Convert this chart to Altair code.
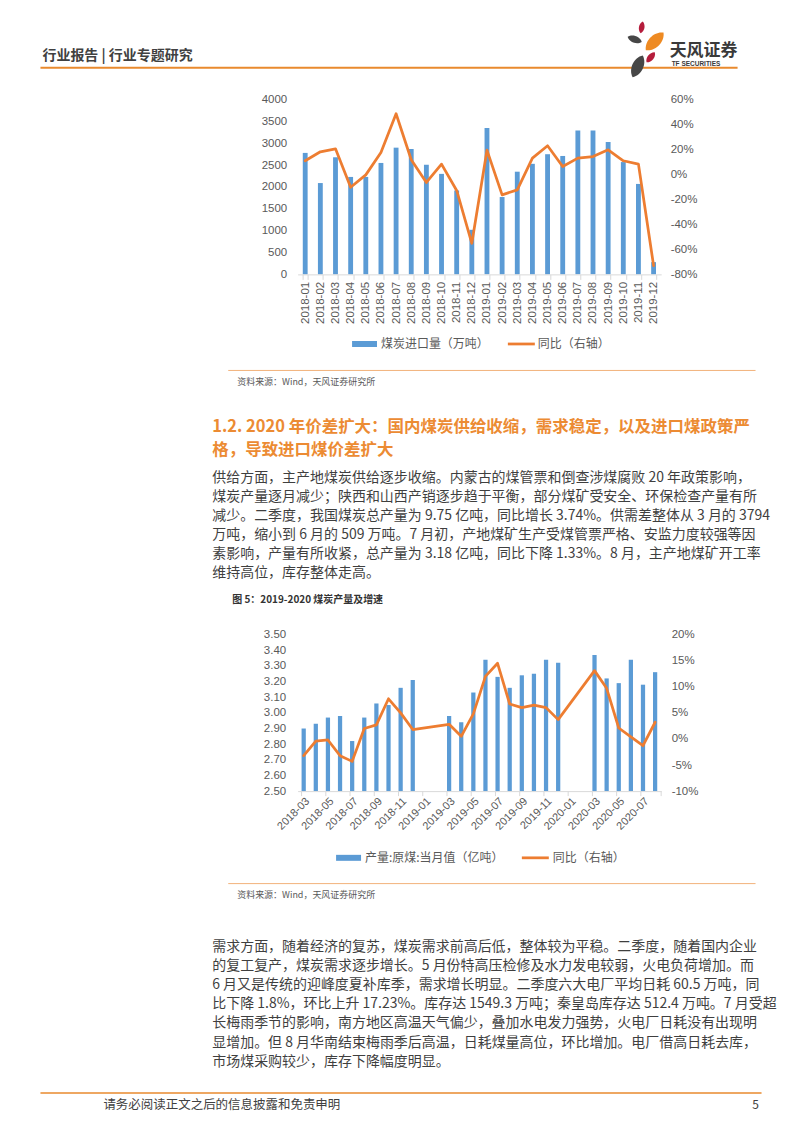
import altair as alt
import pandas as pd

# ---------------- data ----------------
months1 = ["2018-01", "2018-02", "2018-03", "2018-04", "2018-05", "2018-06",
           "2018-07", "2018-08", "2018-09", "2018-10", "2018-11", "2018-12",
           "2019-01", "2019-02", "2019-03", "2019-04", "2019-05", "2019-06",
           "2019-07", "2019-08", "2019-09", "2019-10", "2019-11", "2019-12"]
coal_imports = [2780, 2090, 2680, 2230, 2230, 2550, 2900, 2870, 2510, 2300, 1920, 1020,
                3350, 1770, 2350, 2530, 2750, 2710, 3290, 3290, 3030, 2570, 2070, 280]
imports_yoy = [11.0, 18.2, 20.6, -10.2, -0.3, 17.7, 48.7, 11.8, -6.4, 8.3, -12.8, -55.1,
               19.5, -16.3, -12.3, 13.1, 23.0, 6.4, 13.1, 14.4, 19.8, 11.0, 8.3, -73.0]

months2 = ["2018-03", "2018-04", "2018-05", "2018-06", "2018-07", "2018-08", "2018-09",
           "2018-10", "2018-11", "2018-12", "2019-01", "2019-02", "2019-03", "2019-04",
           "2019-05", "2019-06", "2019-07", "2019-08", "2019-09", "2019-10", "2019-11",
           "2019-12", "2020-01", "2020-02", "2020-03", "2020-04", "2020-05", "2020-06",
           "2020-07", "2020-08"]
prod_months = ["2018-03", "2018-04", "2018-05", "2018-06", "2018-07", "2018-08", "2018-09",
               "2018-10", "2018-11", "2018-12", "2019-03", "2019-04", "2019-05", "2019-06",
               "2019-07", "2019-08", "2019-09", "2019-10", "2019-11", "2019-12", "2020-03",
               "2020-04", "2020-05", "2020-06", "2020-07", "2020-08"]
coal_output = [2.90, 2.93, 2.97, 2.98, 2.82, 2.97, 3.06, 3.05, 3.16, 3.21,
               2.98, 2.94, 3.13, 3.34, 3.23, 3.16, 3.24, 3.25, 3.34, 3.32,
               3.37, 3.22, 3.19, 3.34, 3.18, 3.26]
output_yoy = [-3.2, -0.4, -0.2, -3.2, -4.3, 2.0, 2.7, 7.7, 5.0, 1.8,
              2.8, 0.5, 4.8, 12.0, 14.5, 6.7, 6.0, 6.5, 6.0, 3.7,
              13.1, 9.7, 2.1, 0.4, -1.3, 3.2]

header_left = "行业报告 | 行业专题研究"
logo_cn = "天风证券"
logo_en = "TF SECURITIES"
legend1 = ["煤炭进口量（万吨）", "同比（右轴）"]
legend2 = ["产量:原煤:当月值（亿吨）", "同比（右轴）"]
source_text = "资料来源：Wind，天风证券研究所"
heading = ["1.2. 2020 年价差扩大：国内煤炭供给收缩，需求稳定，以及进口煤政策严",
           "格，导致进口煤价差扩大"]
para1 = ["供给方面，主产地煤炭供给逐步收缩。内蒙古的煤管票和倒查涉煤腐败 20 年政策影响，",
         "煤炭产量逐月减少；陕西和山西产销逐步趋于平衡，部分煤矿受安全、环保检查产量有所",
         "减少。二季度，我国煤炭总产量为 9.75 亿吨，同比增长 3.74%。供需差整体从 3 月的 3794",
         "万吨，缩小到 6 月的 509 万吨。7 月初，产地煤矿生产受煤管票严格、安监力度较强等因",
         "素影响，产量有所收紧，总产量为 3.18 亿吨，同比下降 1.33%。8 月，主产地煤矿开工率",
         "维持高位，库存整体走高。"]
caption2 = "图 5：2019-2020 煤炭产量及增速"
para2 = ["需求方面，随着经济的复苏，煤炭需求前高后低，整体较为平稳。二季度，随着国内企业",
         "的复工复产，煤炭需求逐步增长。5 月份特高压检修及水力发电较弱，火电负荷增加。而",
         "6 月又是传统的迎峰度夏补库季，需求增长明显。二季度六大电厂平均日耗 60.5 万吨，同",
         "比下降 1.8%，环比上升 17.23%。库存达 1549.3 万吨；秦皇岛库存达 512.4 万吨。7 月受超",
         "长梅雨季节的影响，南方地区高温天气偏少，叠加水电发力强势，火电厂日耗没有出现明",
         "显增加。但 8 月华南结束梅雨季后高温，日耗煤量高位，环比增加。电厂借高日耗去库，",
         "市场煤采购较少，库存下降幅度明显。"]
footer_text = "请务必阅读正文之后的信息披露和免责申明"
page_no = "5"

# ---------------- layout / style ----------------
OX, OY1, OY2 = 297.5, 98.3, 634.0
W, H1, H2 = 364, 175, 156.7
CJK = "Noto Sans CJK SC"
NUM = "Liberation Sans"
BLUE, ORANGE = "#5B9BD5", "#ED7D31"
GRAY = "#595959"
BODY = "#3F3F3F"
PAGE_ORANGE = "#E98A2E"


def one(s=""):
    return pd.DataFrame({"t": [s]})


def text(s, x, y, size, color=BODY, weight="normal", font=CJK, align="left"):
    return alt.Chart(one(s)).mark_text(
        align=align, baseline="middle", font=font, fontSize=size,
        fontWeight=weight, fill=color
    ).encode(x=alt.value(x - OX), y=alt.value(y - OY1), text="t:N")


def hline(x1, x2, y, color, w):
    return alt.Chart(one()).mark_rule(color=color, strokeWidth=w).encode(
        x=alt.value(x1 - OX), x2=alt.value(x2 - OX), y=alt.value(y - OY1))


def box(x1, x2, y1, y2, color, opacity=1):
    return alt.Chart(one()).mark_rect(color=color, opacity=opacity).encode(
        x=alt.value(x1 - OX), x2=alt.value(x2 - OX),
        y=alt.value(y1 - OY1), y2=alt.value(y2 - OY1))


PETAL = "M0,-1C0.62,-0.55 0.62,0.55 0,1C-0.62,0.55 -0.62,-0.55 0,-1Z"


def petal(x, y, L, ang, color):
    return alt.Chart(one()).mark_point(
        shape=PETAL, filled=True, size=L * L, angle=ang, color=color, opacity=1, strokeWidth=0
    ).encode(x=alt.value(x - OX), y=alt.value(y - OY1))


# page frame (defines the page box for sizing; transparent)
decor = [box(8, 792, 8, 1124, "white", 0)]
# header
decor += [text(header_left, 42, 55, 14, "#404040", "bold"),
          hline(40, 738, 66.5, PAGE_ORANGE, 2),
          petal(642, 26, 12, 10, "#B51D3C"),
          petal(635, 38, 15, 110, "#474747"),
          petal(655, 40, 25, 45, "#EE8A22"),
          petal(651, 56, 13, 40, "#B51D3C"),
          petal(638, 65, 24, 25, "#474747"),
          text(logo_cn, 670, 50, 17, "#3A3A3A", "bold"),
          text(logo_en, 672, 62.5, 6.5, "#3A3A3A", "bold", NUM)]
# legend 1
decor += [box(352, 377, 340, 346, BLUE), text(legend1[0], 381, 343, 12, GRAY),
          hline(508, 535, 343, ORANGE, 2.75), text(legend1[1], 538, 343, 12, GRAY)]
# source 1 + heading + paragraph 1 + caption
decor += [hline(228, 756, 369.5, "#F2B27A", 1), text(source_text, 237, 381, 9, GRAY)]
decor += [text(s, 212, 426 + 23 * i, 16.5, "#EC8B33", "bold") for i, s in enumerate(heading)]
decor += [text(s, 212, 477.5 + 18.9 * i, 14, BODY) for i, s in enumerate(para1)]
decor += [text(caption2, 232, 599, 10, "#333333", "bold")]
# legend 2
decor += [box(336, 361, 854.5, 860.5, BLUE), text(legend2[0], 365, 857.5, 12, GRAY),
          hline(522, 549, 857.5, ORANGE, 2.75), text(legend2[1], 553, 857.5, 12, GRAY)]
# source 2 + paragraph 2 + footer
decor += [hline(228, 756, 883.3, "#F2B27A", 1), text(source_text, 237, 895, 9, GRAY)]
decor += [text(s, 212, 946.7 + 19.17 * i, 14, BODY) for i, s in enumerate(para2)]
decor += [hline(40, 762, 1093, PAGE_ORANGE, 1.5),
          text(footer_text, 103, 1104.5, 12.5, "#404040"),
          text(page_no, 756, 1104.5, 12, "#404040", align="center")]

# ---------------- chart 1 ----------------
df1 = pd.DataFrame({"month": months1, "imports": coal_imports, "yoy": imports_yoy})
lab = dict(labelFont=NUM, labelColor=GRAY, zindex=1)
x1_scale = alt.Scale(domain=months1, paddingInner=0.68, paddingOuter=0.34)
x1_axis = alt.Axis(title=None, labelAngle=-90, labelFontSize=11.5, labelPadding=2,
                   tickBand="extent", tickSize=5, tickColor="#D9D9D9",
                   domainColor="#D9D9D9", labelOverlap=False, **lab)

bars1 = alt.Chart(df1).mark_bar(color=BLUE).encode(
    x=alt.X("month:N", sort=months1, scale=x1_scale, axis=x1_axis),
    y=alt.Y("imports:Q", scale=alt.Scale(domain=[0, 4000], nice=False),
            axis=alt.Axis(title=None, values=[0, 500, 1000, 1500, 2000, 2500, 3000, 3500, 4000],
                          format="d", grid=False, domain=False, ticks=False,
                          labelFontSize=11.5, labelPadding=11, **lab)))
line1 = alt.Chart(df1).mark_line(color=ORANGE, strokeWidth=2.75, strokeJoin="round",
                                 strokeCap="round").encode(
    x=alt.X("month:N", sort=months1, scale=x1_scale, axis=x1_axis, bandPosition=0.5),
    y=alt.Y("yoy:Q", scale=alt.Scale(domain=[-80, 60], nice=False, zero=False),
            axis=alt.Axis(orient="right", title=None, values=[-80, -60, -40, -20, 0, 20, 40, 60],
                          labelExpr="datum.value + '%'", grid=False, domain=False, ticks=False,
                          labelFontSize=11.5, labelPadding=9, **lab)))

section1 = alt.layer(decor[0], bars1, line1, *decor[1:]).resolve_scale(
    y="independent").properties(width=W, height=H1)

# ---------------- chart 2 ----------------
df2 = pd.DataFrame({"month": prod_months, "prod": coal_output, "yoy": output_yoy})
x2_scale = alt.Scale(domain=months2, paddingInner=0.65, paddingOuter=0.325)
x2_axis = alt.Axis(title=None, values=months2[::2], labelAngle=-45, labelFontSize=11,
                   labelPadding=4, ticks=False, domainColor="#D9D9D9",
                   labelOverlap=False, **lab)

bars2 = alt.Chart(df2).mark_bar(color=BLUE).encode(
    x=alt.X("month:N", sort=months2, scale=x2_scale, axis=x2_axis),
    y=alt.Y("prod:Q", scale=alt.Scale(domain=[2.5, 3.5], nice=False, zero=False),
            axis=alt.Axis(title=None,
                          values=[2.5, 2.6, 2.7, 2.8, 2.9, 3.0, 3.1, 3.2, 3.3, 3.4, 3.5],
                          format=".2f", grid=False, domain=False, ticks=False,
                          labelFontSize=11.5, labelPadding=12, **lab)),
    y2=alt.datum(2.5))
line2 = alt.Chart(df2).mark_line(color=ORANGE, strokeWidth=2.75, strokeJoin="round",
                                 strokeCap="round").encode(
    x=alt.X("month:N", sort=months2, scale=x2_scale, axis=x2_axis, bandPosition=0.5),
    y=alt.Y("yoy:Q", scale=alt.Scale(domain=[-10, 20], nice=False, zero=False),
            axis=alt.Axis(orient="right", title=None, values=[-10, -5, 0, 5, 10, 15, 20],
                          labelExpr="datum.value + '%'", grid=False, domain=False, ticks=False,
                          labelFontSize=11.5, labelPadding=10, **lab)))
ticks2 = alt.Chart(pd.DataFrame({"month": months2[::2]})).mark_rule(color="#D9D9D9").encode(
    x=alt.X("month:N", sort=months2, scale=x2_scale, axis=x2_axis, bandPosition=0),
    y=alt.value(H2), y2=alt.value(H2 + 5))
end_tick = alt.Chart(one()).mark_rule(color="#D9D9D9").encode(
    x=alt.value(W), y=alt.value(H2), y2=alt.value(H2 + 5))

section2 = alt.layer(bars2, line2, ticks2, end_tick).resolve_scale(
    y="independent").properties(width=W, height=H2)

chart = alt.vconcat(section1, section2, spacing=OY2 - (OY1 + H1), bounds="flush").properties(
    padding=0).configure_view(strokeWidth=0)

chart.save("out.html", embed_options={"renderer": "svg", "actions": False})
